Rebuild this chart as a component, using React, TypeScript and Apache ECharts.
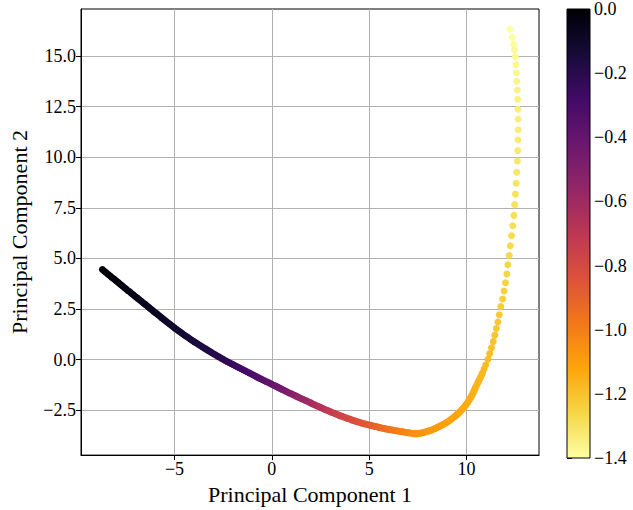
import React, { useEffect, useRef } from "react";
import * as echarts from "echarts";

// [Principal Component 1, Principal Component 2, colour value]
const earlyStates: [number, number, number][] = [
  [-8.7, 4.45, 0.0], [-8.6, 4.37, -0.003], [-8.5, 4.29, -0.006], [-8.4, 4.21, -0.008],
  [-8.3, 4.13, -0.011], [-8.2, 4.05, -0.014], [-8.1, 3.98, -0.017], [-8.0, 3.9, -0.02],
  [-7.9, 3.82, -0.023], [-7.8, 3.74, -0.026], [-7.7, 3.66, -0.029], [-7.6, 3.58, -0.031],
  [-7.5, 3.5, -0.034], [-7.4, 3.42, -0.037], [-7.3, 3.35, -0.04], [-7.2, 3.27, -0.043],
  [-7.1, 3.19, -0.046], [-7.0, 3.11, -0.049], [-6.9, 3.04, -0.052], [-6.8, 2.96, -0.055],
  [-6.7, 2.88, -0.058], [-6.6, 2.8, -0.06], [-6.5, 2.73, -0.063], [-6.4, 2.65, -0.066],
  [-6.3, 2.57, -0.069], [-6.2, 2.49, -0.072], [-6.1, 2.41, -0.075], [-6.0, 2.33, -0.078],
  [-5.9, 2.26, -0.081], [-5.8, 2.18, -0.084], [-5.7, 2.1, -0.088], [-5.6, 2.02, -0.091],
  [-5.5, 1.95, -0.094], [-5.4, 1.87, -0.097], [-5.3, 1.8, -0.1], [-5.2, 1.72, -0.103],
  [-5.1, 1.65, -0.107], [-5.0, 1.57, -0.11], [-4.9, 1.5, -0.114], [-4.8, 1.43, -0.117],
  [-4.7, 1.36, -0.121], [-4.6, 1.29, -0.124], [-4.5, 1.22, -0.128], [-4.4, 1.15, -0.132],
  [-4.3, 1.09, -0.136], [-4.2, 1.02, -0.139], [-4.1, 0.96, -0.143], [-4.0, 0.89, -0.146],
  [-3.9, 0.83, -0.15], [-3.8, 0.77, -0.154], [-3.7, 0.71, -0.158], [-3.6, 0.65, -0.161],
  [-3.5, 0.59, -0.165], [-3.4, 0.53, -0.169], [-3.3, 0.47, -0.173], [-3.2, 0.41, -0.177],
  [-3.1, 0.35, -0.181], [-3.0, 0.29, -0.184], [-2.9, 0.24, -0.188], [-2.8, 0.18, -0.192],
  [-2.7, 0.13, -0.196], [-2.6, 0.07, -0.201], [-2.5, 0.02, -0.207], [-2.4, -0.04, -0.214],
  [-2.3, -0.09, -0.221], [-2.2, -0.14, -0.228], [-2.1, -0.19, -0.235], [-2.0, -0.24, -0.241],
  [-1.9, -0.29, -0.248], [-1.8, -0.34, -0.255], [-1.7, -0.39, -0.262], [-1.6, -0.44, -0.269],
  [-1.5, -0.49, -0.276], [-1.4, -0.54, -0.283], [-1.3, -0.59, -0.29], [-1.2, -0.64, -0.297],
  [-1.1, -0.69, -0.305], [-1.0, -0.74, -0.312], [-0.9, -0.79, -0.32], [-0.8, -0.84, -0.327],
  [-0.7, -0.89, -0.334], [-0.6, -0.93, -0.341], [-0.5, -0.98, -0.349], [-0.4, -1.03, -0.357],
  [-0.3, -1.08, -0.365], [-0.2, -1.12, -0.373], [-0.1, -1.17, -0.382], [0.0, -1.22, -0.391],
  [0.1, -1.27, -0.401], [0.2, -1.31, -0.412], [0.3, -1.36, -0.424], [0.4, -1.41, -0.435],
  [0.5, -1.46, -0.447], [0.6, -1.5, -0.458], [0.7, -1.55, -0.47], [0.8, -1.6, -0.481],
  [0.9, -1.65, -0.493], [1.0, -1.69, -0.504], [1.1, -1.74, -0.516], [1.2, -1.78, -0.527],
  [1.3, -1.83, -0.539], [1.4, -1.87, -0.55], [1.5, -1.92, -0.561], [1.6, -1.96, -0.571],
  [1.7, -2.01, -0.582], [1.8, -2.05, -0.592], [1.9, -2.1, -0.603], [2.0, -2.14, -0.613],
  [2.1, -2.19, -0.624], [2.2, -2.23, -0.634], [2.3, -2.28, -0.645], [2.4, -2.32, -0.655],
  [2.5, -2.36, -0.666], [2.6, -2.4, -0.677], [2.7, -2.45, -0.688], [2.8, -2.49, -0.698],
  [2.9, -2.53, -0.709], [3.0, -2.57, -0.719], [3.1, -2.61, -0.73], [3.2, -2.65, -0.738],
  [3.3, -2.69, -0.746], [3.4, -2.73, -0.754], [3.5, -2.77, -0.762], [3.6, -2.8, -0.77],
  [3.7, -2.84, -0.778], [3.8, -2.87, -0.785], [3.9, -2.91, -0.793], [4.0, -2.94, -0.801],
  [4.1, -2.98, -0.809], [4.2, -3.01, -0.817], [4.3, -3.04, -0.825], [4.4, -3.07, -0.833],
  [4.5, -3.1, -0.841], [4.6, -3.13, -0.848], [4.7, -3.16, -0.856], [4.8, -3.18, -0.864],
  [4.9, -3.21, -0.872], [5.0, -3.23, -0.878], [5.1, -3.25, -0.885], [5.2, -3.28, -0.893],
  [5.3, -3.3, -0.901], [5.4, -3.32, -0.909], [5.5, -3.35, -0.917], [5.6, -3.37, -0.925],
  [5.7, -3.39, -0.933], [5.8, -3.41, -0.941], [5.9, -3.43, -0.949], [6.0, -3.45, -0.957],
  [6.1, -3.47, -0.965], [6.2, -3.48, -0.973], [6.3, -3.5, -0.981], [6.4, -3.52, -0.989],
  [6.5, -3.53, -0.997], [6.6, -3.55, -1.004], [6.7, -3.56, -1.011], [6.8, -3.58, -1.018],
  [6.9, -3.6, -1.024], [7.0, -3.61, -1.031], [7.1, -3.63, -1.037], [7.2, -3.64, -1.044],
  [7.3, -3.66, -1.05],
];

const turnStates: [number, number, number][] = [
  [7.4, -3.66, -1.054], [7.5, -3.65, -1.057], [7.6, -3.64, -1.061], [7.7, -3.62, -1.064],
  [7.8, -3.6, -1.068], [7.9, -3.57, -1.071], [8.0, -3.54, -1.075], [8.1, -3.51, -1.078],
  [8.2, -3.48, -1.082], [8.3, -3.44, -1.085], [8.4, -3.4, -1.088], [8.5, -3.35, -1.091],
  [8.6, -3.3, -1.094], [8.7, -3.25, -1.097], [8.8, -3.2, -1.1], [8.9, -3.15, -1.103],
  [8.98, -3.11, -1.106], [9.05, -3.06, -1.108], [9.13, -3.01, -1.111], [9.2, -2.95, -1.113],
  [9.28, -2.9, -1.115], [9.35, -2.84, -1.117], [9.43, -2.78, -1.119], [9.5, -2.72, -1.121],
  [9.57, -2.66, -1.123], [9.63, -2.6, -1.125], [9.7, -2.54, -1.127], [9.76, -2.47, -1.129],
  [9.82, -2.41, -1.131], [9.88, -2.34, -1.133], [9.94, -2.27, -1.135], [10.0, -2.2, -1.137],
  [10.05, -2.13, -1.139], [10.1, -2.05, -1.141], [10.15, -1.97, -1.143], [10.2, -1.89, -1.145],
  [10.25, -1.81, -1.147], [10.3, -1.72, -1.149], [10.34, -1.64, -1.151], [10.38, -1.55, -1.153],
  [10.42, -1.47, -1.155], [10.46, -1.38, -1.157], [10.5, -1.29, -1.159], [10.55, -1.2, -1.161],
  [10.6, -1.11, -1.163], [10.64, -1.02, -1.165], [10.69, -0.93, -1.167], [10.73, -0.84, -1.169],
  [10.78, -0.75, -1.171], [10.82, -0.65, -1.173], [10.9, -0.46, -1.177], [10.98, -0.27, -1.181],
];

const lateStates: [number, number, number][] = [
  [11.1, 0.02, -1.187], [11.19, 0.3, -1.193], [11.28, 0.58, -1.198], [11.37, 0.89, -1.204],
  [11.45, 1.21, -1.21], [11.53, 1.54, -1.215], [11.61, 1.86, -1.221], [11.68, 2.22, -1.227],
  [11.76, 2.62, -1.232], [11.85, 3.0, -1.238], [11.93, 3.39, -1.243], [12.0, 3.8, -1.249],
  [12.07, 4.23, -1.255], [12.12, 4.69, -1.26], [12.19, 5.15, -1.266], [12.25, 5.63, -1.271],
  [12.31, 6.12, -1.277], [12.37, 6.62, -1.283], [12.43, 7.13, -1.288], [12.47, 7.66, -1.294],
  [12.51, 8.18, -1.299], [12.55, 8.72, -1.305], [12.58, 9.26, -1.311], [12.61, 9.82, -1.316],
  [12.63, 10.34, -1.322], [12.64, 10.87, -1.327], [12.65, 11.36, -1.333], [12.65, 11.89, -1.339],
  [12.64, 12.38, -1.344], [12.63, 12.87, -1.35], [12.61, 13.33, -1.355], [12.58, 13.76, -1.361],
  [12.56, 14.18, -1.367], [12.53, 14.57, -1.372], [12.5, 14.97, -1.378], [12.46, 15.3, -1.383],
  [12.42, 15.59, -1.389], [12.34, 15.92, -1.395], [12.22, 16.33, -1.4],
];

const xTicks = [-5, 0, 5, 10];
const yTicks = [-2.5, 0, 2.5, 5, 7.5, 10, 12.5, 15];
const colorMin = -1.4;
const colorMax = 0;
const colorStep = 0.2;
// inferno, from low (black) to high (light yellow)
const inferno = [
  "#000004", "#160b39", "#420a68", "#6a176e", "#932667", "#bc3754",
  "#dd513a", "#f37819", "#fca50a", "#f6d746", "#fcffa4",
];

const FONT = "'Liberation Serif', 'DejaVu Serif', serif";
const fmt = (v: number, d: number) => {
  const r = Math.round(v * 1000) / 1000;
  return (r < 0 ? "\u2212" : "") + Math.abs(r).toFixed(d);
};

export default function App() {
  const ref = useRef<HTMLDivElement>(null);
  useEffect(() => {
    if (!ref.current) return;
    const chart = echarts.init(ref.current, undefined, { renderer: "svg" });
    const data = [...earlyStates, ...turnStates, ...lateStates];
    // reversed colormap: value 0 -> black, value -1.4 -> light yellow
    const rev = [...inferno].reverse();
    const gridTop = 9;
    const gridH = 449;
    chart.setOption({
      animation: false,
      textStyle: { fontFamily: FONT },
      grid: [
        { left: 80, top: gridTop, width: 459, height: gridH, show: true, borderColor: "#000", borderWidth: 1, backgroundColor: "transparent" },
        { left: 567, top: gridTop, width: 23, height: gridH, show: false },
      ],
      xAxis: [
        {
          type: "value", gridIndex: 0, min: -9.8, max: 13.72,
          name: "Principal Component 1", nameLocation: "middle", nameGap: 25,
          nameTextStyle: { fontSize: 22, color: "#000", fontFamily: FONT },
          axisLine: { show: true, onZero: false, lineStyle: { color: "#000", width: 1 } },
          axisTick: { show: true, length: 5, customValues: xTicks, lineStyle: { color: "#000" } },
          axisLabel: { customValues: xTicks, formatter: (v: number) => fmt(v, 0), fontSize: 18, color: "#000", margin: 5, fontFamily: FONT },
          splitLine: { show: true, lineStyle: { color: "#b0b0b0", width: 1 } },
        },
        { type: "value", gridIndex: 1, min: 0, max: 1, show: false },
      ],
      yAxis: [
        {
          type: "value", gridIndex: 0, min: -4.72, max: 17.33,
          name: "Principal Component 2", nameLocation: "middle", nameGap: 51, nameRotate: 90,
          nameTextStyle: { fontSize: 22, color: "#000", fontFamily: FONT },
          axisLine: { show: true, onZero: false, lineStyle: { color: "#000", width: 1 } },
          axisTick: { show: true, length: 5, customValues: yTicks, lineStyle: { color: "#000" } },
          axisLabel: { customValues: yTicks, formatter: (v: number) => fmt(v, 1), fontSize: 18, color: "#000", margin: 5, fontFamily: FONT },
          splitLine: { show: true, lineStyle: { color: "#b0b0b0", width: 1 } },
        },
        {
          type: "value", gridIndex: 1, position: "right", min: colorMin, max: colorMax, interval: colorStep,
          axisLine: { show: false },
          axisTick: { show: true, length: 5, lineStyle: { color: "#000" } },
          axisLabel: { formatter: (v: number) => fmt(v, 1), fontSize: 18, color: "#000", margin: 4, fontFamily: FONT },
          splitLine: { show: false },
        },
      ],
      visualMap: {
        type: "continuous", show: false, min: colorMin, max: colorMax, dimension: 2, seriesIndex: 0,
        inRange: { color: rev },
      },
      series: [
        {
          type: "scatter", xAxisIndex: 0, yAxisIndex: 0, symbolSize: 7,
          data, itemStyle: { opacity: 1 }, emphasis: { disabled: true },
        },
      ],
      graphic: [
        {
          type: "rect", z: 10, silent: true,
          shape: { x: 567, y: gridTop, width: 23, height: gridH },
          style: {
            fill: new echarts.graphic.LinearGradient(0, 0, 0, 1,
              inferno.map((c, i) => ({ offset: i / (inferno.length - 1), color: c }))),
            stroke: "#000", lineWidth: 1,
          },
        },
      ],
    });
    return () => chart.dispose();
  }, []);
  return (
    <div ref={ref} style={{ position: "fixed", left: 0, top: 0, width: 633, height: 510, background: "#fff" }} />
  );
}
